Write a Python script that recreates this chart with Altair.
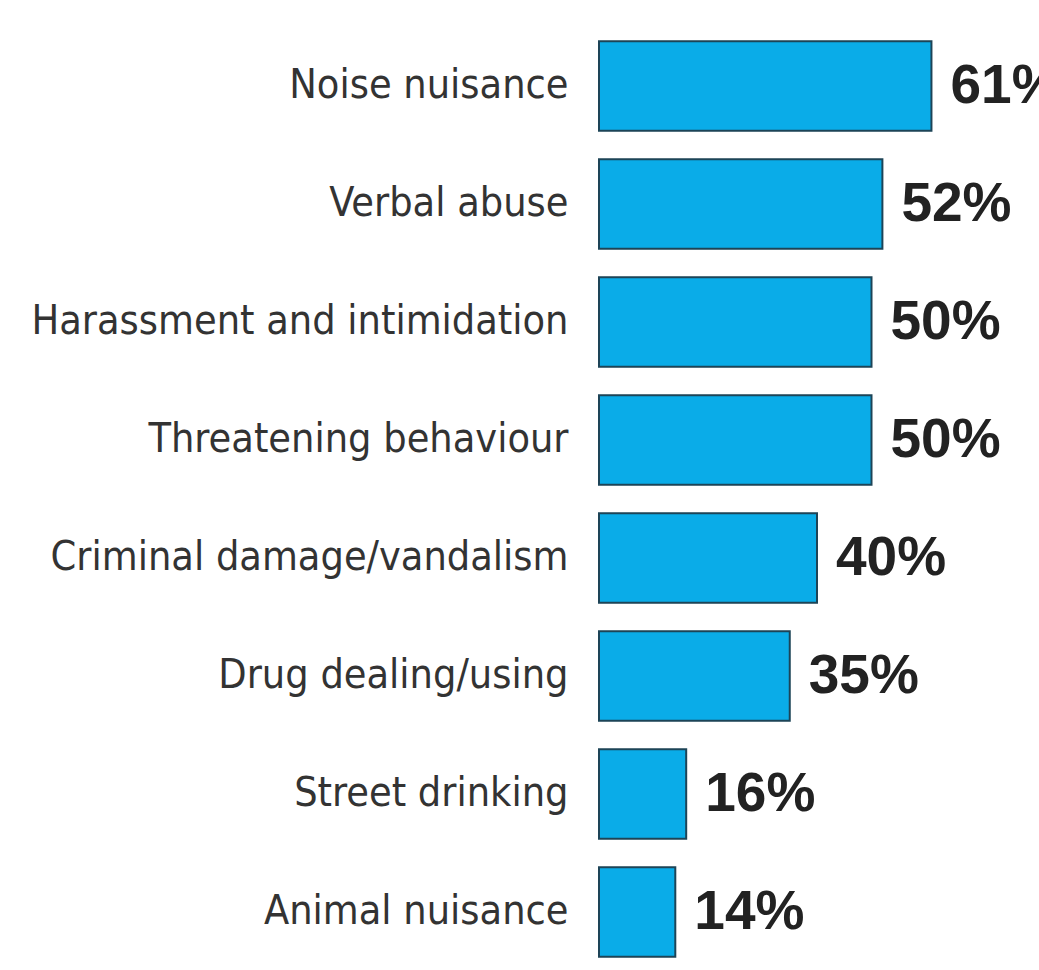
import altair as alt
import pandas as pd

categories = [
    "Noise nuisance",
    "Verbal abuse",
    "Harassment and intimidation",
    "Threatening behaviour",
    "Criminal damage/vandalism",
    "Drug dealing/using",
    "Street drinking",
    "Animal nuisance",
]
values = [61, 52, 50, 50, 40, 35, 16, 14]
labels = [f"{v}%" for v in values]

df = pd.DataFrame({"category": categories, "value": values, "label": labels})

y_enc = alt.Y(
    "category:N",
    sort=categories,
    scale=alt.Scale(paddingInner=0.24, paddingOuter=0.12),
    axis=alt.Axis(
        title=None,
        ticks=False,
        domain=False,
        grid=False,
        labelFont="DejaVu Sans Condensed, Roboto Condensed, Liberation Sans Narrow, Arial Narrow, Roboto",
        labelFontSize=41,
        labelColor="#333333",
        labelPadding=31,
        labelLimit=0,
    ),
)
x_enc = alt.X("value:Q", scale=alt.Scale(domain=[0, 80]), axis=None)

bars = alt.Chart(df).mark_bar(
    color="#0AACE8", stroke="#1d4457", strokeWidth=2
).encode(x=x_enc, y=y_enc)

text = alt.Chart(df).mark_text(
    align="left",
    baseline="middle",
    dx=19,
    font="Liberation Sans",
    fontWeight="bold",
    fontSize=55,
    color="#222222",
).encode(x=x_enc, y=y_enc, text="label:N")

chart = (
    alt.layer(bars, text)
    .properties(
        width=436,
        height=944,
        background="white",
        autosize=alt.AutoSizeParams(type="none"),
        padding={"left": 599, "top": 27, "right": 4, "bottom": 0},
    )
    .configure_view(strokeWidth=0, stroke="transparent")
)

chart.save("out.html", embed_options={"renderer": "svg", "actions": False})
